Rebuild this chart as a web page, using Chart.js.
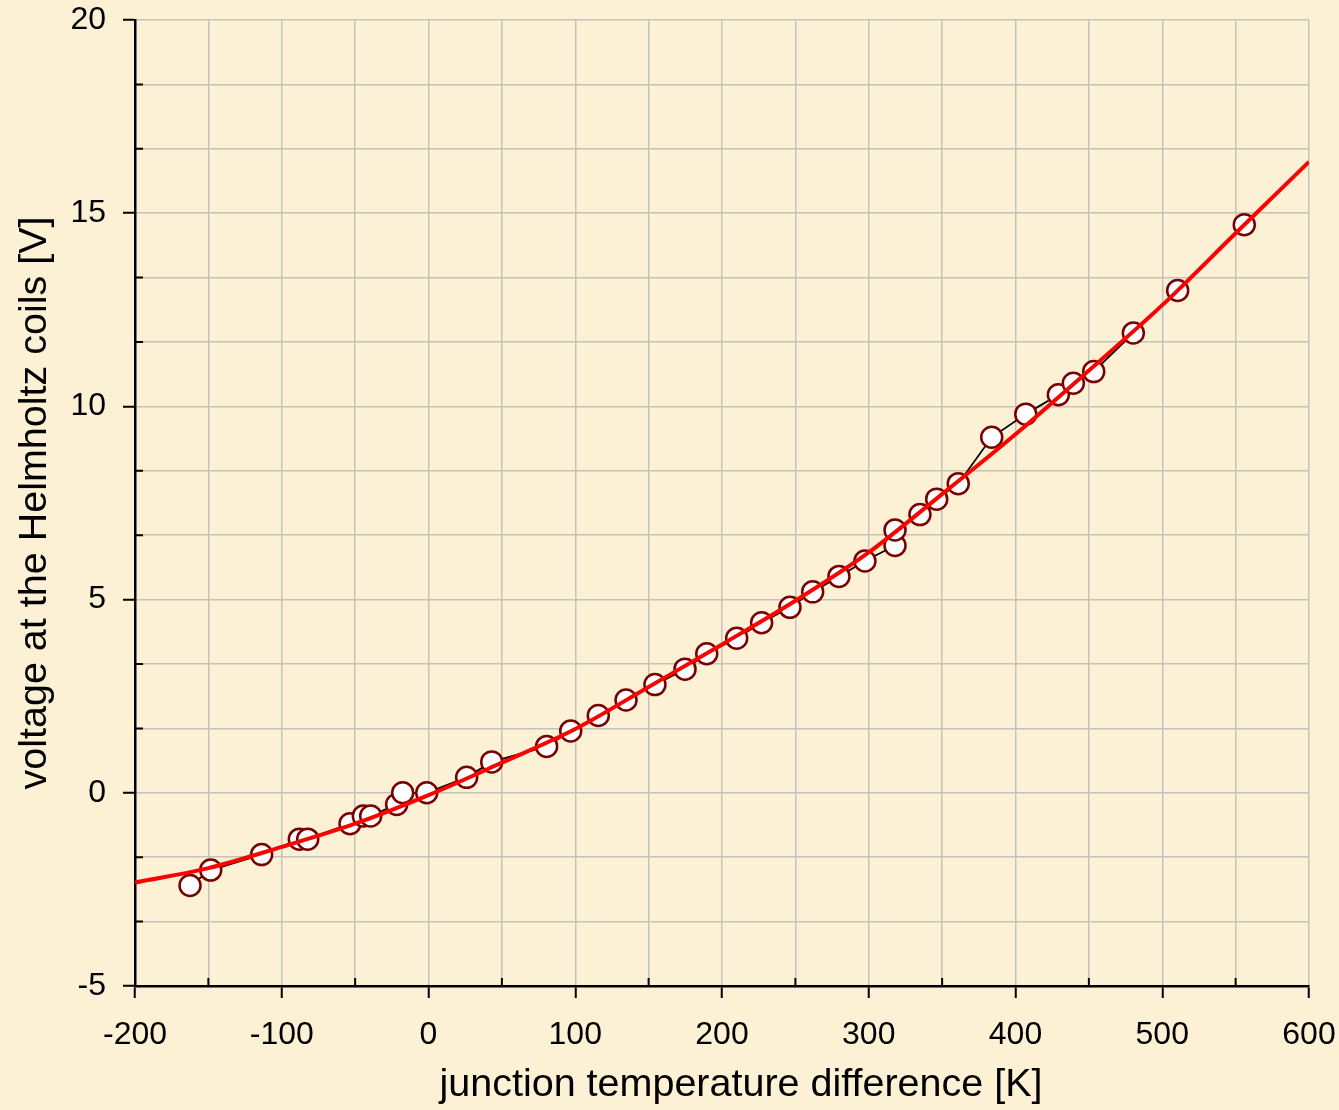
<!DOCTYPE html>
<html>
<head>
<meta charset="utf-8">
<title>Helmholtz coil voltage vs junction temperature difference</title>
<script src="https://cdn.jsdelivr.net/npm/chart.js@4.4.1/dist/chart.umd.min.js"></script>
<style>
  html, body { margin: 0; padding: 0; background: #FCF0D5; }
  #wrap { width: 1339px; height: 1110px; position: relative; }
</style>
</head>
<body>
<div id="wrap"><canvas id="chart" width="1339" height="1110"></canvas></div>
<script>
'use strict';

/* ── Data ── */
const tempDiff = [-162.5, -148.4, -113.7, -88.0, -82.3, -53.5, -44.4, -39.4, -21.7, -17.6,
  -1.2, 26.0, 43.1, 80.5, 96.9, 115.7, 134.6, 154.3, 174.8, 189.6,
  210.0, 227.0, 246.3, 261.8, 279.7, 297.4, 317.9, 317.9, 334.9, 346.3,
  361.0, 383.8, 407.0, 429.2, 439.4, 453.3, 480.3, 510.5, 555.9];
const voltage = [-2.4, -2.0, -1.6, -1.2, -1.2, -0.8, -0.6, -0.6, -0.3, 0.0,
  0.0, 0.4, 0.8, 1.2, 1.6, 2.0, 2.4, 2.8, 3.2, 3.6,
  4.0, 4.4, 4.8, 5.2, 5.6, 6.0, 6.4, 6.8, 7.2, 7.6,
  8.0, 9.2, 9.8, 10.3, 10.6, 10.9, 11.9, 13.0, 14.7];

// fitted curve (red)
const fitX = [-200, -150, -100, -50, 0, 50, 100, 150, 200, 250, 300, 350, 400, 450, 500, 550, 600];
const fitY = [-2.32, -1.95, -1.40, -0.80, -0.06, 0.78, 1.65, 2.74, 3.84, 4.97, 6.22, 7.73, 9.28, 10.93, 12.62, 14.48, 16.33];

const xMajorTicks = [-200, -100, 0, 100, 200, 300, 400, 500, 600];
const yMajorTicks = [-5, 0, 5, 10, 15, 20];
const Y_SUBDIV = 3;

const X_TITLE = 'junction temperature difference [K]';
const Y_TITLE = 'voltage at the Helmholtz coils [V]';

const FONT = "'Liberation Sans', Arial, Helvetica, sans-serif";
const GRID = '#c4c2bc';

function isMajor(list, v) {
  return list.some(m => Math.abs(m - v) < 1e-6);
}

function yTickValues() {
  const out = [];
  for (let i = 0; i < yMajorTicks.length - 1; i++) {
    const a = yMajorTicks[i], b = yMajorTicks[i + 1];
    for (let k = 0; k < Y_SUBDIV; k++) out.push(a + (b - a) * k / Y_SUBDIV);
  }
  out.push(yMajorTicks[yMajorTicks.length - 1]);
  return out;
}

// drop the label overhang padding so layout.padding alone places the plot
function noOverhang(s) {
  s.paddingTop = 0;
  s.paddingBottom = 0;
  s.paddingLeft = 0;
  s.paddingRight = 0;
}

/* ── Inner minor tick marks ── */
const minorTicks = {
  id: 'minorTicks',
  afterDatasetsDraw(chart) {
    const { ctx, chartArea: a, scales: { x, y } } = chart;
    ctx.save();
    ctx.strokeStyle = '#000';
    ctx.lineWidth = 2;
    ctx.beginPath();
    x.ticks.forEach(t => {
      if (isMajor(xMajorTicks, t.value)) return;
      const px = x.getPixelForValue(t.value);
      ctx.moveTo(px, a.bottom);
      ctx.lineTo(px, a.bottom - 8);
    });
    y.ticks.forEach(t => {
      if (isMajor(yMajorTicks, t.value)) return;
      const py = y.getPixelForValue(t.value);
      ctx.moveTo(a.left, py);
      ctx.lineTo(a.left + 8, py);
    });
    ctx.stroke();
    ctx.restore();
  },
};

/* ── x title sits a little right of the plot centre in the original ── */
const xTitle = {
  id: 'xTitle',
  afterDraw(chart) {
    const { ctx, chartArea: a } = chart;
    ctx.save();
    ctx.font = `39.5px ${FONT}`;
    ctx.fillStyle = '#000';
    ctx.textAlign = 'center';
    ctx.textBaseline = 'alphabetic';
    ctx.fillText(X_TITLE, (a.left + a.right) / 2 + 19, 1096);
    ctx.restore();
  },
};

const measured = tempDiff.map((t, i) => ({ x: t, y: voltage[i] }));
const fitted = fitX.map((t, i) => ({ x: t, y: fitY[i] }));

new Chart(document.getElementById('chart'), {
  type: 'scatter',
  data: {
    datasets: [
      {
        data: fitted,
        showLine: true,
        borderColor: '#ff0000',
        borderWidth: 4,
        pointRadius: 0,
        cubicInterpolationMode: 'monotone',
        order: 0,
      },
      {
        data: measured,
        showLine: true,
        borderColor: '#000000',
        borderWidth: 1.8,
        pointRadius: 10.5,
        pointBorderWidth: 2.5,
        pointBackgroundColor: '#ffffff',
        pointBorderColor: '#7a0000',
        tension: 0,
        order: 1,
      },
    ],
  },
  options: {
    responsive: false,
    animation: false,
    layout: { padding: { top: 20, right: 30, left: 0, bottom: 0 } },
    plugins: { legend: { display: false }, tooltip: { enabled: false } },
    scales: {
      x: {
        type: 'linear',
        min: -200,
        max: 600,
        afterFit: s => { s.height = 124; noOverhang(s); },
        border: { color: '#000', width: 2.5 },
        grid: {
          color: GRID,
          lineWidth: 1.5,
          tickLength: 12,
          tickWidth: 2,
          tickColor: c => isMajor(xMajorTicks, c.tick.value) ? '#000' : 'rgba(0,0,0,0)',
        },
        ticks: {
          stepSize: 50,
          autoSkip: false,
          maxRotation: 0,
          padding: 18,
          color: '#000',
          font: { family: FONT, size: 32 },
          callback: v => isMajor(xMajorTicks, v) ? String(v) : '',
        },
        title: { display: false },
      },
      y: {
        type: 'linear',
        min: -5,
        max: 20,
        afterFit: s => { s.width = 135; noOverhang(s); },
        afterBuildTicks: s => { s.ticks = yTickValues().map(v => ({ value: v })); },
        border: { color: '#000', width: 2.5 },
        grid: {
          color: GRID,
          lineWidth: 1.5,
          tickLength: 12,
          tickWidth: 2,
          tickColor: c => isMajor(yMajorTicks, c.tick.value) ? '#000' : 'rgba(0,0,0,0)',
        },
        ticks: {
          autoSkip: false,
          padding: 17,
          color: '#000',
          font: { family: FONT, size: 32 },
          callback: v => isMajor(yMajorTicks, v) ? String(Math.round(v)) : '',
        },
        title: {
          display: true,
          text: Y_TITLE,
          color: '#000',
          font: { family: FONT, size: 39.5 },
          padding: { top: 11, bottom: 0 },
        },
      },
    },
  },
  plugins: [minorTicks, xTitle],
});
</script>
</body>
</html>
